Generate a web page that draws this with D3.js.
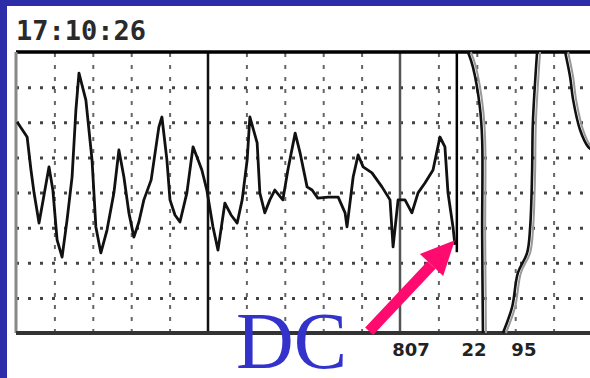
<!DOCTYPE html>
<html>
<head>
<meta charset="utf-8">
<script src="https://cdn.jsdelivr.net/npm/d3@7"></script>
<style>
  html, body { margin: 0; padding: 0; background: #fff; }
  svg { display: block; }
</style>
</head>
<body>
<div id="chart"></div>
<script>
// time in grid divisions, level in chart units (10 per division)
const traceTime = [0.03, 0.29, 0.39, 0.47, 0.60, 0.73, 0.86, 0.96, 1.07, 1.20, 1.33, 1.46, 1.56, 1.64, 1.82, 1.98,
  2.08, 2.21, 2.37, 2.55, 2.68, 2.81, 2.94, 3.07, 3.20, 3.33, 3.52, 3.72, 3.80, 3.93, 4.01, 4.14, 4.27, 4.45,
  4.61, 4.74, 4.84, 4.97, 5.13, 5.26, 5.44, 5.60, 5.76, 5.89, 6.02, 6.09, 6.28, 6.35, 6.48, 6.61, 6.74, 6.95,
  7.08, 7.27, 7.40, 7.58, 7.71, 7.86, 8.13, 8.39, 8.57, 8.62, 8.78, 8.91, 9.04, 9.27, 9.53, 9.74, 9.82, 9.95,
  10.13, 10.31, 10.47, 10.65, 10.86, 11.04, 11.17, 11.25, 11.38, 11.43];
const traceLevel = [60.1, 55.8, 46.4, 39.9, 31.3, 39.3, 47.3, 40.7, 26.5, 21.6, 32.2, 44.4, 63.5, 74.0, 66.3, 49.3,
  30.2, 22.8, 29.3, 39.9, 52.1, 44.4, 34.2, 27.3, 31.6, 37.9, 43.6, 58.6, 61.5, 49.3, 37.9, 33.6, 31.6, 39.9,
  53.0, 49.3, 46.4, 40.7, 30.2, 23.6, 37.0, 33.6, 31.3, 37.9, 49.3, 61.5, 54.1, 39.9, 34.2, 37.9, 40.7, 37.9,
  46.4, 56.9, 51.2, 41.6, 40.7, 38.4, 38.7, 38.7, 34.2, 30.2, 44.4, 50.7, 47.3, 45.6, 41.6, 37.9, 24.5, 37.9,
  37.9, 34.2, 39.9, 42.7, 46.4, 55.8, 53.0, 39.9, 30.2, 25.1];

// off-scale sweeps after the DC event
const sweepATime = [11.77, 11.90, 12.08, 12.14, 12.14, 12.16];
const sweepALevel = [80, 75.7, 64.3, 54.9, 28.5, 0];
const sweepBTime = [12.68, 12.92, 13.07, 13.31, 13.39, 13.44, 13.46, 13.57];
const sweepBLevel = [0, 7.4, 17.1, 22.8, 30.2, 45.6, 59.8, 80];
const sweepCTime = [14.30, 14.43, 14.51, 14.69, 14.90, 15.08];
const sweepCLevel = [80, 72.9, 66.3, 57.8, 53.0, 51.5];

const minorTimes = [1, 2, 3, 4, 6, 7, 8, 9, 11, 12, 13, 14];
const majorTimes = [5, 10];
const levelTicks = [10, 20, 30, 40, 50, 60, 70];
const dcTime = 11.48;
const dcLevel = 23;

const stampLabel = '17:10:26';
const bottomLabels = ['807', '22', '95'];
const bottomLabelTimes = [9.8, 11.6, 12.9];
const noteLabel = 'DC';

const width = 590,
  height = 378;

const svg = d3
  .select('#chart')
  .append('svg')
  .attr('width', width)
  .attr('height', height);

// blue slide frame
svg.append('rect').attr('x', 0).attr('y', 0).attr('width', width).attr('height', height).attr('fill', '#2d2daa');
svg.append('rect').attr('x', 7).attr('y', 6).attr('width', width - 7).attr('height', height - 6).attr('fill', '#fff');

const x = d3.scaleLinear().domain([0, 15]).range([16, 592]);
const y = d3.scaleLinear().domain([0, 80]).range([333, 52]);

const g = svg.append('g');

// dotted grid
const vGrid = g
  .append('g')
  .attr('transform', 'translate(0,333)')
  .call(d3.axisBottom(x).tickValues(minorTimes).tickSize(-281).tickFormat(''));
vGrid.select('.domain').remove();
vGrid.selectAll('line').attr('stroke', '#666').attr('stroke-width', 2).attr('stroke-dasharray', '4,8');

const hGrid = g
  .append('g')
  .attr('transform', 'translate(16,0)')
  .call(d3.axisLeft(y).tickValues(levelTicks).tickSize(-576).tickFormat(''));
hGrid.select('.domain').remove();
hGrid.selectAll('line').attr('stroke', '#444').attr('stroke-width', 3).attr('stroke-dasharray', '3,9');

// major time lines
g.selectAll('.major')
  .data(majorTimes)
  .enter()
  .append('line')
  .attr('x1', (d) => x(d))
  .attr('x2', (d) => x(d))
  .attr('y1', y(80))
  .attr('y2', y(0))
  .attr('stroke', (d, i) => (i === 0 ? '#111' : '#555'))
  .attr('stroke-width', 2.5);

// DC event marker
g.append('line')
  .attr('x1', x(dcTime))
  .attr('x2', x(dcTime))
  .attr('y1', y(80))
  .attr('y2', y(dcLevel))
  .attr('stroke', '#000')
  .attr('stroke-width', 2.5);

// chart frame
g.append('line').attr('x1', x(0)).attr('x2', width).attr('y1', y(80)).attr('y2', y(80)).attr('stroke', '#000').attr('stroke-width', 3.5);
g.append('line').attr('x1', x(0)).attr('x2', x(0)).attr('y1', y(80)).attr('y2', y(0)).attr('stroke', '#888').attr('stroke-width', 3);
g.append('line').attr('x1', x(0)).attr('x2', width).attr('y1', y(0)).attr('y2', y(0)).attr('stroke', '#333').attr('stroke-width', 4);

const line = d3
  .line()
  .x((d) => x(d[0]))
  .y((d) => y(d[1]));
const smooth = d3
  .line()
  .curve(d3.curveCatmullRom)
  .x((d) => x(d[0]))
  .y((d) => y(d[1]));

const zip = (a, b) => a.map((v, i) => [v, b[i]]);

g.append('path')
  .datum(zip(traceTime, traceLevel))
  .attr('fill', 'none')
  .attr('stroke', '#111')
  .attr('stroke-width', 2.8)
  .attr('stroke-linejoin', 'round')
  .attr('d', line);

[
  [sweepATime, sweepALevel],
  [sweepBTime, sweepBLevel],
  [sweepCTime, sweepCLevel],
].forEach(([t, v]) => {
  // faint pen ghost beside each sweep
  g.append('path')
    .datum(zip(t, v))
    .attr('fill', 'none')
    .attr('stroke', '#999')
    .attr('stroke-width', 2)
    .attr('transform', 'translate(3,0)')
    .attr('d', smooth);
  g.append('path')
    .datum(zip(t, v))
    .attr('fill', 'none')
    .attr('stroke', '#111')
    .attr('stroke-width', 2.6)
    .attr('d', smooth);
});

// time stamp
svg
  .append('text')
  .attr('x', 16)
  .attr('y', 40)
  .style('font-family', 'DejaVu Sans Mono')
  .style('font-weight', 'bold')
  .style('font-size', '27px')
  .attr('fill', '#2a2a2a')
  .text(stampLabel);

// smudged labels below the axis
svg
  .selectAll('.blabel')
  .data(bottomLabels)
  .enter()
  .append('text')
  .attr('x', (d, i) => x(bottomLabelTimes[i]))
  .attr('y', 356)
  .style('font-family', 'DejaVu Sans')
  .style('font-weight', 'bold')
  .style('font-size', '18px')
  .attr('fill', '#222')
  .text((d) => d);

// arrow pointing at the DC event
const tipX = x(dcTime) - 2,
  tipY = y(dcLevel) - 12;
const ang = Math.atan2(325 - tipY, 375 - tipX);
const headLen = 34,
  headW = 16;
const bx = tipX + headLen * Math.cos(ang),
  by = tipY + headLen * Math.sin(ang);
const px = -Math.sin(ang),
  py = Math.cos(ang);
g.append('line')
  .attr('x1', bx)
  .attr('y1', by)
  .attr('x2', tipX + 125 * Math.cos(ang))
  .attr('y2', tipY + 125 * Math.sin(ang))
  .attr('stroke', '#ff0a6e')
  .attr('stroke-width', 11);
g.append('path')
  .attr('d', d3.line()([
    [tipX, tipY],
    [bx + headW * px, by + headW * py],
    [bx - headW * px, by - headW * py],
  ]) + 'Z')
  .attr('fill', '#ff0a6e');

svg
  .append('text')
  .attr('x', 236)
  .attr('y', 368)
  .style('font-family', 'Liberation Serif')
  .style('font-size', '80px')
  .attr('fill', '#3333cc')
  .text(noteLabel);
</script>
</body>
</html>
